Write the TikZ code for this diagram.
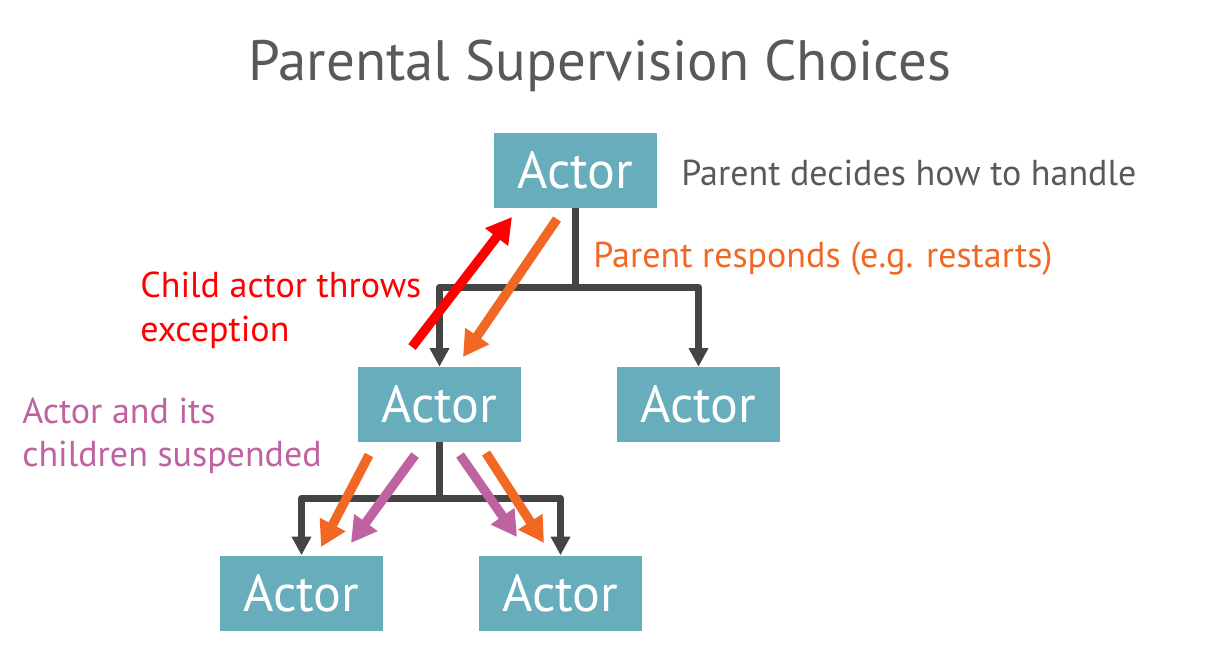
\documentclass[tikz,border=0pt]{standalone}
\usepackage{fontspec}
\setmainfont{PT Sans}
\usetikzlibrary{arrows.meta}
\definecolor{boxteal}{RGB}{104,173,187}
\definecolor{treegray}{RGB}{68,68,68}
\definecolor{txtgray}{RGB}{88,89,91}
\definecolor{arrred}{RGB}{255,0,0}
\definecolor{arrorange}{RGB}{241,103,36}
\definecolor{arrpurple}{RGB}{191,98,162}
\begin{document}
\begin{tikzpicture}[x=0.75pt,y=-0.75pt,
  actor/.style={fill=boxteal, text=white, minimum width=122.25pt, minimum height=56.25pt, inner sep=0pt, font=\fontsize{39}{39}\selectfont},
  treeline/.style={draw=treegray, line width=5.25pt, line join=round, -{Triangle[length=14pt,width=14pt]}},
  fatarrow/.style={line width=7pt, -{Triangle[length=19pt,width=20.5pt]}},
  lbl/.style={inner sep=0pt, anchor=base west, font=\fontsize{27}{27}\selectfont},
  titlestyle/.style={inner sep=0pt, anchor=base, text=txtgray, font=\fontsize{42.7}{42.7}\selectfont}]
\useasboundingbox (0,0) rectangle (1227,671);
\node[titlestyle] (title) at (600,80) {Parental Supervision Choices};
% actors
\node[actor] (top) at (575.5,170.5) {Actor};
\node[actor] (mid) at (439.5,404.5) {Actor};
\node[actor] (right) at (698.5,404.5) {Actor};
\node[actor] (bl) at (301.5,593) {Actor};
\node[actor] (br) at (560.5,593) {Actor};
% tree connectors
\coordinate (j1) at (575.5,287);
\coordinate (j2) at (439.5,498);
\draw[treeline] (top.south) -- (j1) -| (mid.north);
\draw[treeline] (j1) -| (right.north);
\draw[treeline] (mid.south) -- (j2) -| (bl.north);
\draw[treeline] (j2) -| (br.north);
% coloured arrows
\coordinate (redS) at (412,347);   \coordinate (redE) at (512,217);
\coordinate (orS) at (557,219);    \coordinate (orE) at (463,357);
\coordinate (olS) at (369,455);    \coordinate (olE) at (321,547);
\coordinate (plS) at (415,455);    \coordinate (plE) at (351,543);
\coordinate (prS) at (460,455);    \coordinate (prE) at (517,537);
\coordinate (orrS) at (486,453);   \coordinate (orrE) at (544,543);
\draw[fatarrow, draw=arrred, fill=arrred] (redS) -- (redE);
\draw[fatarrow, draw=arrorange, fill=arrorange] (orS) -- (orE);
\draw[fatarrow, draw=arrorange, fill=arrorange] (olS) -- (olE);
\draw[fatarrow, draw=arrpurple, fill=arrpurple] (plS) -- (plE);
\draw[fatarrow, draw=arrpurple, fill=arrpurple] (prS) -- (prE);
\draw[fatarrow, draw=arrorange, fill=arrorange] (orrS) -- (orrE);
% labels
\node[lbl, text=txtgray] (decides) at (681,185) {Parent decides how to handle};
\node[lbl, text=arrorange] (responds) at (593,267) {Parent responds (e.g. restarts)};
\node[lbl, text=arrred] (throwsA) at (140,297) {Child actor throws};
\node[lbl, text=arrred] (throwsB) at (140,341) {exception};
\node[lbl, text=arrpurple] (suspA) at (22,423) {Actor and its};
\node[lbl, text=arrpurple] (suspB) at (22,466) {children suspended};
\end{tikzpicture}
\end{document}
